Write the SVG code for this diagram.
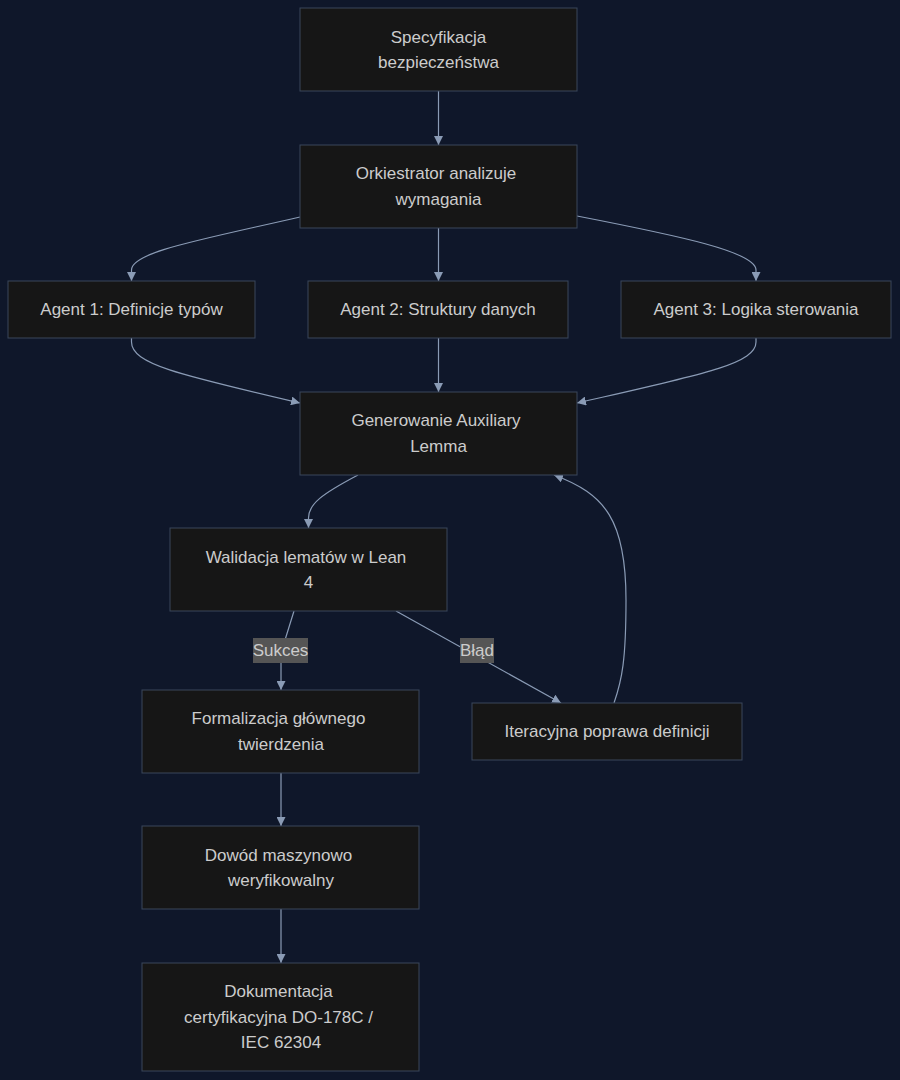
<svg xmlns="http://www.w3.org/2000/svg" width="900" height="1080" viewBox="0 0 900 1080">
<defs>
<style>
.node rect{fill:#161616;stroke:#3a475b;stroke-width:1}
.node text,.lbl text{font-family:"Liberation Sans",Arial,sans-serif;font-size:17px;fill:#cccccc;text-anchor:middle;dominant-baseline:central}
.edge{fill:none;stroke:#8a9bb5;stroke-width:1.2}
.lbl rect{fill:#555555}
</style>
<marker id="arr" viewBox="0 0 10 10" refX="10" refY="5" markerWidth="9" markerHeight="9" markerUnits="userSpaceOnUse" orient="auto">
<path d="M0,0 L10,5 L0,10 z" fill="#8a9bb5"/>
</marker>
</defs>
<rect width="900" height="1080" fill="#0f172a"/>
<g id="connectors">
<path class="edge" d="M438.5,91 V145" marker-end="url(#arr)"/>
<path class="edge" d="M300,217 C200,240 131.5,252 131.5,270 V281" marker-end="url(#arr)"/>
<path class="edge" d="M438.5,228 V281" marker-end="url(#arr)"/>
<path class="edge" d="M577,216 C680,236 756,252 756,270 V281" marker-end="url(#arr)"/>
<path class="edge" d="M131.5,338 V342 C131.5,364 180,375 300,403" marker-end="url(#arr)"/>
<path class="edge" d="M438.5,338 V392" marker-end="url(#arr)"/>
<path class="edge" d="M756,338 V342 C756,364 700,375 577,403" marker-end="url(#arr)"/>
<path class="edge" d="M358,475 C322,494 308.5,504 308.5,518 V528" marker-end="url(#arr)"/>
<path class="edge" d="M294,611 L285,640 L281,662 V690" marker-end="url(#arr)"/>
<path class="edge" d="M396,611 L561,703" marker-end="url(#arr)"/>
<path class="edge" d="M614,703 C622,680 626,660 626,600 C626,520 605,494 554,475" marker-end="url(#arr)"/>
<path class="edge" d="M281,773 V826" marker-end="url(#arr)"/>
<path class="edge" d="M281,909 V963" marker-end="url(#arr)"/>
</g>
<g class="lbl" id="lbl-sukces"><rect x="253" y="638" width="55" height="25"/><text x="280.5" y="650.5">Sukces</text></g>
<g class="lbl" id="lbl-blad"><rect x="460" y="638" width="34" height="25"/><text x="477" y="650.5">Błąd</text></g>
<g class="node" id="n-spec"><rect x="300" y="8" width="277" height="83"/><text x="438.5" y="37">Specyfikacja</text><text x="438.5" y="62">bezpieczeństwa</text></g>
<g class="node" id="n-ork"><rect x="300" y="145" width="277" height="83"/><text x="436" y="173.5">Orkiestrator analizuje</text><text x="438.5" y="199">wymagania</text></g>
<g class="node" id="n-a1"><rect x="8" y="281" width="247" height="57"/><text x="131.5" y="309.5">Agent 1: Definicje typów</text></g>
<g class="node" id="n-a2"><rect x="308" y="281" width="260" height="57"/><text x="438" y="309.5">Agent 2: Struktury danych</text></g>
<g class="node" id="n-a3"><rect x="621" y="281" width="270" height="57"/><text x="756" y="309.5">Agent 3: Logika sterowania</text></g>
<g class="node" id="n-gen"><rect x="300" y="392" width="277" height="83"/><text x="436" y="420.5">Generowanie Auxiliary</text><text x="438.5" y="446">Lemma</text></g>
<g class="node" id="n-wal"><rect x="170" y="528" width="277" height="83"/><text x="306" y="557">Walidacja lematów w Lean</text><text x="308.5" y="582">4</text></g>
<g class="node" id="n-form"><rect x="142" y="690" width="277" height="83"/><text x="278.5" y="718.5">Formalizacja głównego</text><text x="281" y="744">twierdzenia</text></g>
<g class="node" id="n-iter"><rect x="472" y="703" width="270" height="57"/><text x="607" y="731.5">Iteracyjna poprawa definicji</text></g>
<g class="node" id="n-dow"><rect x="142" y="826" width="277" height="83"/><text x="278.5" y="855">Dowód maszynowo</text><text x="281" y="880">weryfikowalny</text></g>
<g class="node" id="n-dok"><rect x="142" y="963" width="277" height="108"/><text x="278.5" y="991.5">Dokumentacja</text><text x="278.5" y="1017">certyfikacyjna DO-178C /</text><text x="281" y="1042.5">IEC 62304</text></g>
</svg>
